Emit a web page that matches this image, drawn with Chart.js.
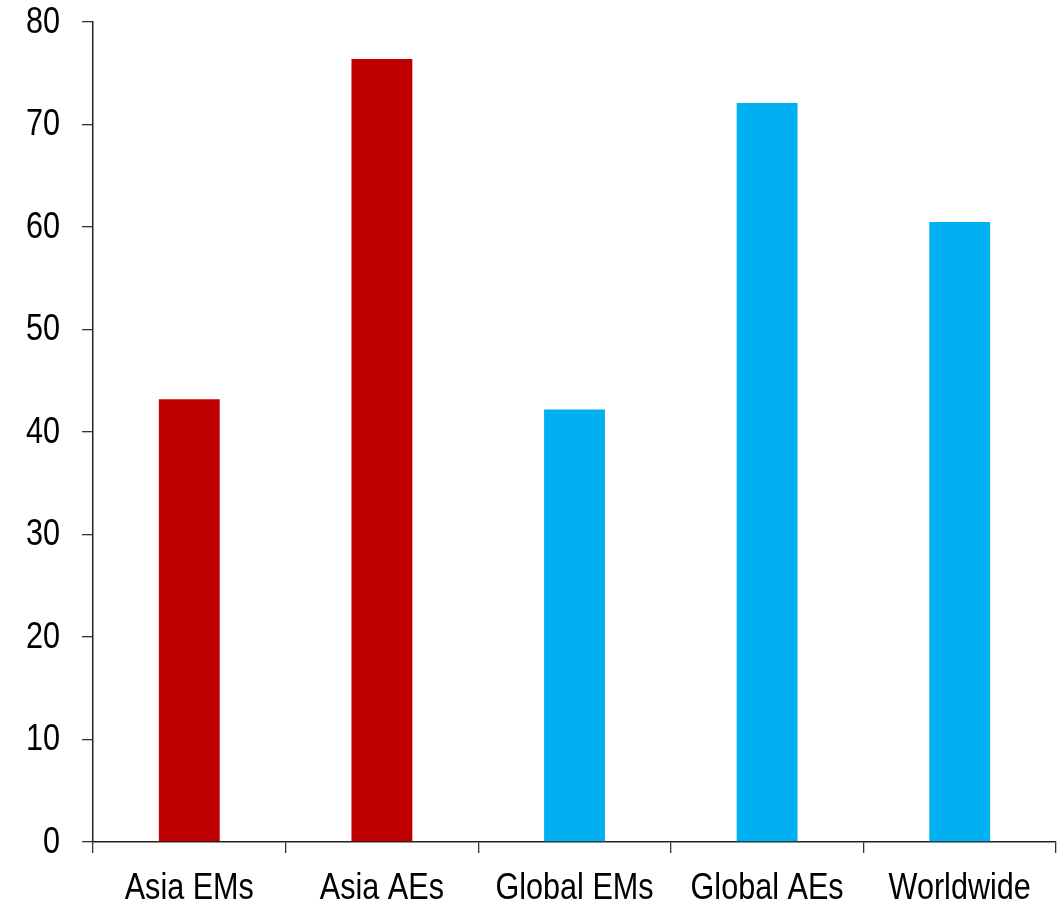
<!DOCTYPE html>
<html>
<head>
<meta charset="utf-8">
<script src="https://cdn.jsdelivr.net/npm/chart.js@4/dist/chart.umd.min.js"></script>
<style>
  html, body { margin: 0; padding: 0; background: #fff; }
  #wrap { width: 1064px; height: 905px; }
</style>
</head>
<body>
<div id="wrap"><canvas id="c"></canvas></div>
<script>
// Regions on the category axis
const categories = ['Asia EMs', 'Asia AEs', 'Global EMs', 'Global AEs', 'Worldwide'];
// Bar values for each region
const values = [43.2, 76.4, 42.2, 72.1, 60.5];
// Asia regions in red, global groups in blue
const barColors = ['#C00000', '#C00000', '#00B0F0', '#00B0F0', '#00B0F0'];
// Value axis range and spacing
const yMin = 0;
const yMax = 80;
const yStep = 10;

// Axis labels are set in a narrowed sans face: draw them horizontally condensed
const labelFont = '36px "Liberation Sans", Arial, sans-serif';
const condense = 0.85;

const condensedLabels = {
  id: 'condensedLabels',
  afterDraw(chart) {
    const ctx = chart.ctx;
    const xs = chart.scales.x;
    const ys = chart.scales.y;
    ctx.save();
    ctx.font = labelFont;
    ctx.fillStyle = '#000';

    // value axis labels, right-aligned left of the tick marks
    ctx.textAlign = 'right';
    ctx.textBaseline = 'middle';
    ys.ticks.forEach((t) => {
      const py = ys.getPixelForValue(t.value);
      ctx.save();
      ctx.translate(ys.left - 22, py + 1);
      ctx.scale(condense, 1);
      ctx.fillText(String(t.value), 0, 0);
      ctx.restore();
    });

    // category labels, centred under each bar
    ctx.textAlign = 'center';
    ctx.textBaseline = 'alphabetic';
    categories.forEach((lab, i) => {
      const px = xs.getPixelForTick(i);
      ctx.save();
      ctx.translate(px, xs.bottom + 46);
      ctx.scale(condense, 1);
      ctx.fillText(lab, 0, 0);
      ctx.restore();
    });
    ctx.restore();
  }
};

new Chart(document.getElementById('c'), {
  type: 'bar',
  data: {
    labels: categories,
    datasets: [{
      data: values,
      backgroundColor: barColors,
      borderWidth: 0,
      barPercentage: 0.316,
      categoryPercentage: 1.0
    }]
  },
  options: {
    responsive: true,
    maintainAspectRatio: false,
    animation: false,
    layout: { padding: { top: 22, right: 8, left: 82, bottom: 52 } },
    plugins: {
      legend: { display: false },
      tooltip: { enabled: false }
    },
    scales: {
      x: {
        grid: {
          display: true,
          drawOnChartArea: false,
          drawTicks: true,
          tickLength: 11,
          color: '#333',
          lineWidth: 1.3
        },
        border: { display: true, color: '#222', width: 1.5 },
        ticks: { display: false }
      },
      y: {
        min: yMin,
        max: yMax,
        grid: {
          display: true,
          drawOnChartArea: false,
          drawTicks: true,
          tickLength: 11,
          color: '#333',
          lineWidth: 1.3
        },
        border: { display: true, color: '#222', width: 1.5 },
        ticks: { display: false, stepSize: yStep }
      }
    }
  },
  plugins: [condensedLabels]
});
</script>
</body>
</html>
